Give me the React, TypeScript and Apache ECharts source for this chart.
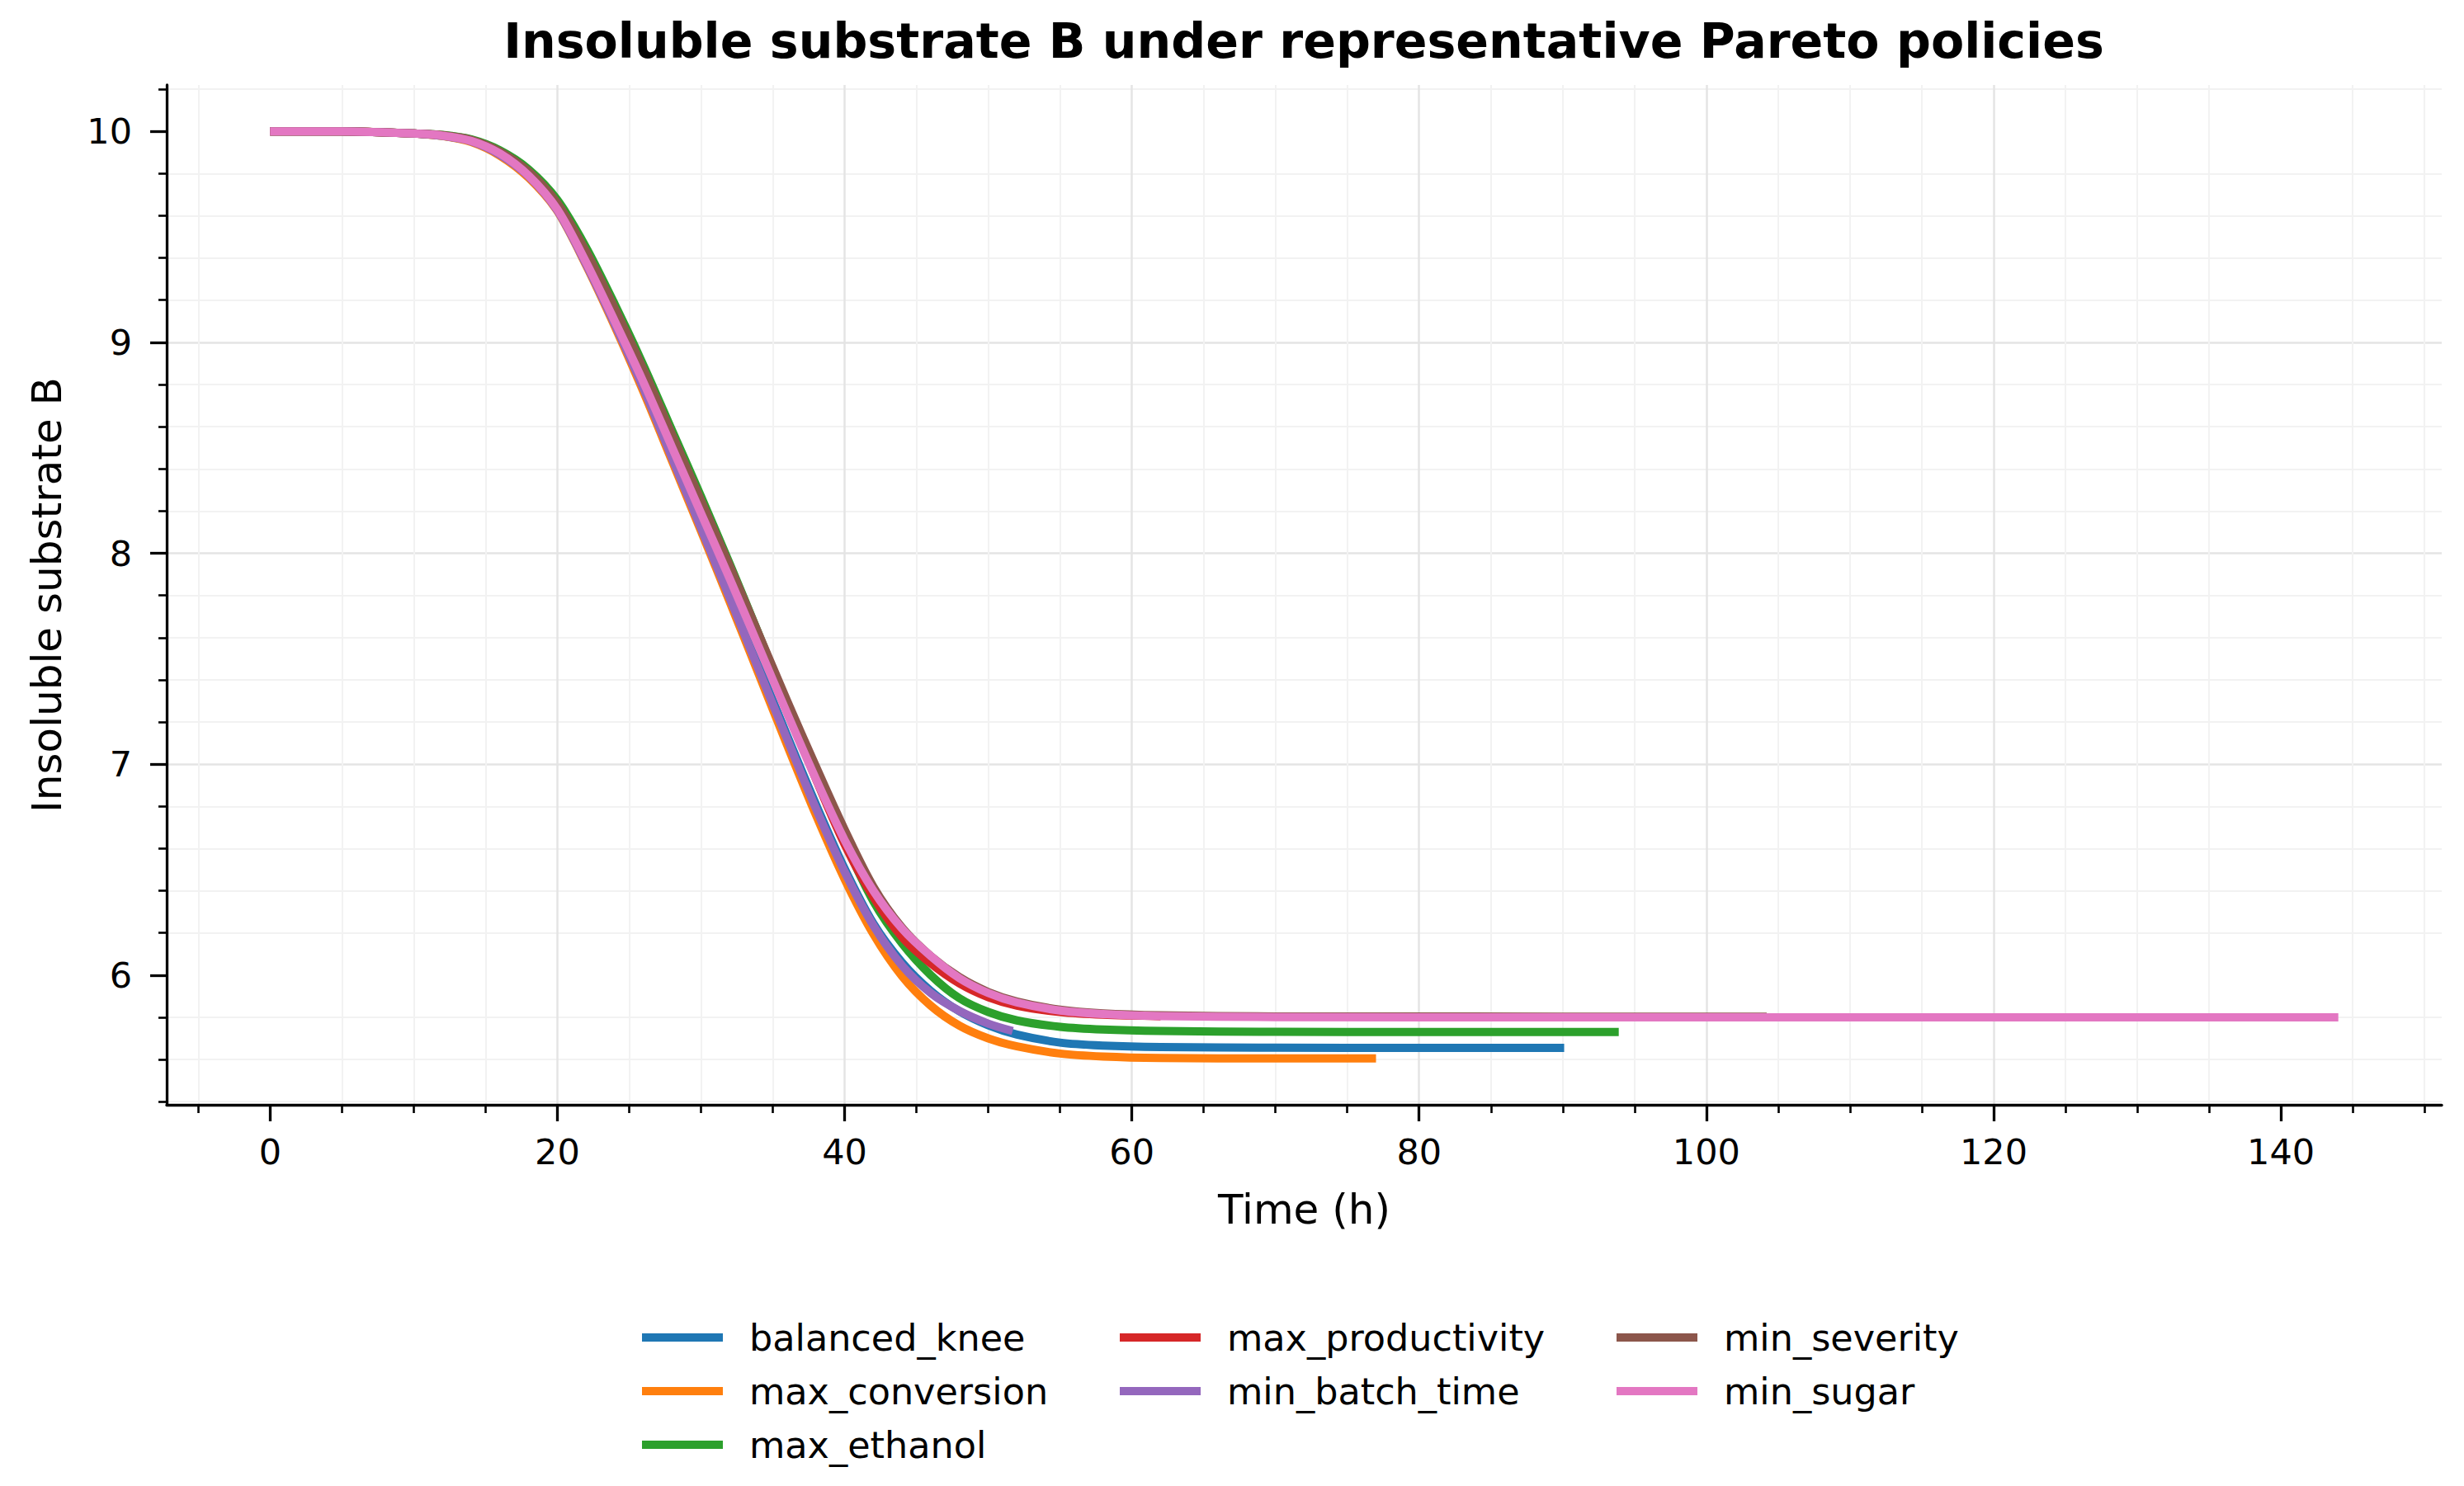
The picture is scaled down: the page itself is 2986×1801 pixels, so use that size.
import React, { useEffect, useRef } from "react";
import * as echarts from "echarts";

const TITLE = "Insoluble substrate B under representative Pareto policies";
const X_LABEL = "Time (h)";
const Y_LABEL = "Insoluble substrate B";

const X_TICKS = [0, 20, 40, 60, 80, 100, 120, 140];
const Y_TICKS = [6, 7, 8, 9, 10];

const SERIES_NAMES = [
  "balanced_knee",
  "max_conversion",
  "max_ethanol",
  "max_productivity",
  "min_batch_time",
  "min_severity",
  "min_sugar",
];
const COLORS = ["#1f77b4", "#ff7f0e", "#2ca02c", "#d62728", "#9467bd", "#8c564b", "#e377c2"];

const balancedKneeT = [0, 5, 10, 12, 14, 16, 18, 20, 22, 24, 26, 28, 30, 32, 34, 36, 38, 40, 42, 44, 46, 48, 50, 52, 55, 58, 62, 70, 80, 90.1];
const balancedKneeB = [10, 10, 9.99, 9.979, 9.953, 9.89, 9.787, 9.628, 9.375, 9.09, 8.785, 8.462, 8.135, 7.805, 7.47, 7.135, 6.81, 6.505, 6.245, 6.06, 5.925, 5.828, 5.762, 5.718, 5.68, 5.666, 5.659, 5.656, 5.655, 5.655];

const maxConversionT = [0, 5, 10, 12, 14, 16, 18, 20, 22, 24, 26, 28, 30, 32, 34, 36, 38, 40, 42, 44, 46, 48, 50, 52, 55, 58, 62, 70, 77];
const maxConversionB = [10, 10, 9.99, 9.978, 9.95, 9.885, 9.78, 9.622, 9.365, 9.075, 8.765, 8.435, 8.105, 7.77, 7.43, 7.09, 6.76, 6.455, 6.195, 5.995, 5.855, 5.76, 5.7, 5.662, 5.628, 5.614, 5.607, 5.605, 5.605];

const maxEthanolT = [0, 5, 10, 12, 14, 16, 18, 20, 22, 24, 26, 28, 30, 32, 34, 36, 38, 40, 42, 44, 46, 48, 50, 52, 55, 58, 62, 70, 80, 93.9];
const maxEthanolB = [10, 10, 9.99, 9.983, 9.962, 9.91, 9.82, 9.675, 9.45, 9.18, 8.89, 8.58, 8.27, 7.95, 7.62, 7.28, 6.95, 6.63, 6.35, 6.15, 6.0, 5.89, 5.825, 5.785, 5.755, 5.742, 5.735, 5.731, 5.73, 5.73];

const maxProductivityT = [0, 5, 10, 12, 14, 16, 18, 20, 22, 24, 26, 28, 30, 32, 34, 36, 38, 40, 42, 44, 46, 48, 50, 52, 55, 58, 62];
const maxProductivityB = [10, 10, 9.99, 9.981, 9.958, 9.9, 9.8, 9.645, 9.405, 9.13, 8.84, 8.53, 8.22, 7.91, 7.59, 7.26, 6.93, 6.62, 6.37, 6.18, 6.055, 5.96, 5.895, 5.855, 5.825, 5.812, 5.805];

const minBatchTimeT = [0, 5, 10, 12, 14, 16, 18, 20, 22, 24, 26, 28, 30, 32, 34, 36, 38, 40, 42, 44, 46, 48, 50, 51.7];
const minBatchTimeB = [10, 10, 9.99, 9.979, 9.953, 9.89, 9.787, 9.625, 9.37, 9.085, 8.78, 8.45, 8.12, 7.788, 7.452, 7.118, 6.79, 6.49, 6.235, 6.045, 5.915, 5.83, 5.77, 5.735];

const minSeverityT = [0, 5, 10, 12, 14, 16, 18, 20, 22, 24, 26, 28, 30, 32, 34, 36, 38, 40, 42, 44, 46, 48, 50, 52, 55, 58, 62, 70, 90, 104.2];
const minSeverityB = [10, 10, 9.99, 9.982, 9.96, 9.905, 9.81, 9.66, 9.43, 9.16, 8.87, 8.56, 8.25, 7.94, 7.62, 7.3, 6.99, 6.69, 6.42, 6.225, 6.09, 5.99, 5.92, 5.875, 5.836, 5.818, 5.809, 5.804, 5.803, 5.803];

const minSugarT = [0, 5, 10, 12, 14, 16, 18, 20, 22, 24, 26, 28, 30, 32, 34, 36, 38, 40, 42, 44, 46, 48, 50, 52, 55, 58, 62, 70, 90, 120, 144];
const minSugarB = [10, 10, 9.99, 9.98, 9.955, 9.895, 9.79, 9.63, 9.38, 9.1, 8.81, 8.5, 8.19, 7.88, 7.56, 7.24, 6.93, 6.64, 6.4, 6.22, 6.09, 5.985, 5.915, 5.87, 5.832, 5.815, 5.806, 5.801, 5.8, 5.8, 5.8];

const SERIES_T = [balancedKneeT, maxConversionT, maxEthanolT, maxProductivityT, minBatchTimeT, minSeverityT, minSugarT];
const SERIES_B = [balancedKneeB, maxConversionB, maxEthanolB, maxProductivityB, minBatchTimeB, minSeverityB, minSugarB];

const LEGEND_COLUMNS = [
  ["balanced_knee", "max_conversion", "max_ethanol"],
  ["max_productivity", "min_batch_time"],
  ["min_severity", "min_sugar"],
];
const LEGEND_LEFTS = [778, 1357, 1959];

const FONT = "DejaVu Sans";

export default function App() {
  const ref = useRef<HTMLDivElement>(null);

  useEffect(() => {
    document.body.style.margin = "0";
    const chart = echarts.init(ref.current as HTMLDivElement, null, { renderer: "svg" });

    const series = SERIES_NAMES.map((name, i) => ({
      type: "line",
      name,
      data: SERIES_T[i].map((t, j) => [t, SERIES_B[i][j]]),
      showSymbol: false,
      symbol: "none",
      smooth: 0.3,
      lineStyle: { width: 10, color: COLORS[i], cap: "butt", join: "round" },
      itemStyle: { color: COLORS[i] },
      emphasis: { disabled: true },
      z: 2 + i,
    }));

    const legends = LEGEND_COLUMNS.map((col, k) => ({
      orient: "vertical",
      left: LEGEND_LEFTS[k],
      top: 1596,
      padding: 0,
      itemGap: 15,
      itemWidth: 98,
      itemHeight: 10,
      icon: "rect",
      selectedMode: false,
      data: col,
      textStyle: {
        fontFamily: FONT,
        fontSize: 44.5,
        color: "#000",
        lineHeight: 50,
        padding: [0, 0, 0, 27],
      },
    }));

    const axisCommon = {
      type: "value",
      nameLocation: "middle",
      nameTextStyle: { fontFamily: FONT, fontSize: 50, color: "#000" },
      axisLine: { show: true, onZero: false, lineStyle: { color: "#000", width: 3.3 } },
      minorSplitLine: { show: true, lineStyle: { color: "#f2f2f2", width: 2 } },
    };

    chart.setOption({
      animation: false,
      backgroundColor: "#ffffff",
      textStyle: { fontFamily: FONT },
      title: {
        text: TITLE,
        left: 1580,
        top: 20,
        textAlign: "center",
        padding: 0,
        textStyle: { fontFamily: FONT, fontSize: 58.6, fontWeight: "bold", color: "#000" },
      },
      grid: { left: 202, right: 27, top: 103, bottom: 462, containLabel: false },
      legend: legends,
      xAxis: {
        ...axisCommon,
        min: -7.2,
        max: 151.2,
        splitNumber: 8,
        minInterval: 20,
        maxInterval: 20,
        name: X_LABEL,
        nameGap: 102,
        axisTick: { show: true, length: 20, lineStyle: { color: "#000", width: 3.3 }, customValues: X_TICKS },
        minorTick: { show: true, splitNumber: 4, length: 10, lineStyle: { color: "#000", width: 2.6 } },
        axisLabel: { margin: 35, fontFamily: FONT, fontSize: 43, color: "#000", customValues: X_TICKS },
        splitLine: { show: true, showMinLine: false, showMaxLine: false, lineStyle: { color: "#e4e4e4", width: 2.5 } },
      },
      yAxis: {
        ...axisCommon,
        min: 5.385,
        max: 10.22,
        splitNumber: 5,
        minInterval: 1,
        maxInterval: 1,
        name: Y_LABEL,
        nameGap: 120,
        axisTick: { show: true, length: 20, lineStyle: { color: "#000", width: 3.3 }, customValues: Y_TICKS },
        minorTick: { show: true, splitNumber: 5, length: 10, lineStyle: { color: "#000", width: 2.6 } },
        axisLabel: { margin: 42, fontFamily: FONT, fontSize: 43, color: "#000", customValues: Y_TICKS },
        splitLine: { show: true, showMinLine: false, showMaxLine: false, lineStyle: { color: "#e4e4e4", width: 2.5 } },
      },
      series,
    });

    return () => chart.dispose();
  }, []);

  return <div ref={ref} style={{ width: 2986, height: 1801 }} />;
}
